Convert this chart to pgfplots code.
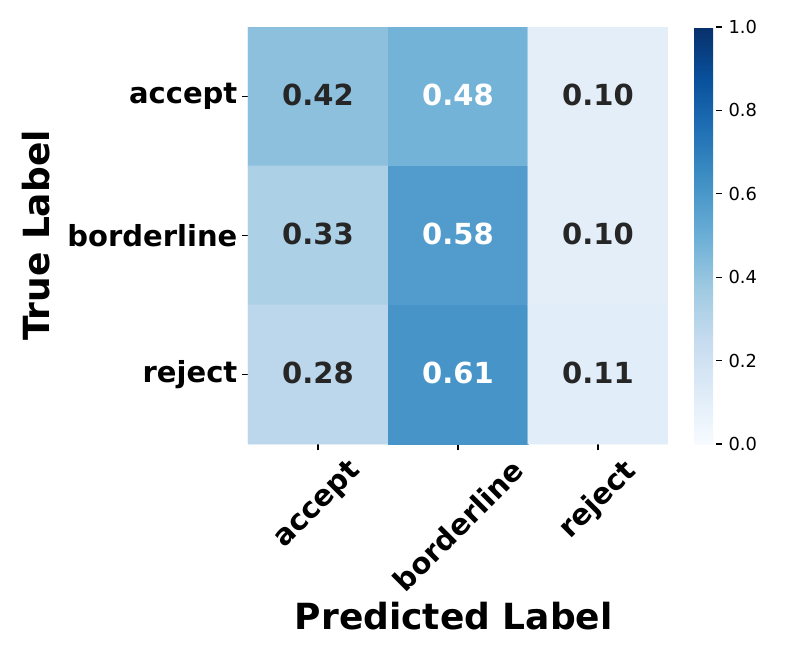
\documentclass[border=0pt]{standalone}
\usepackage{fontspec}
\setmainfont{DejaVu Sans}
\usepackage{graphicx}
\usepackage{pgfplots}
\pgfplotsset{compat=1.18}
\definecolor{annot}{RGB}{38,38,38}

\begin{document}
\begin{tikzpicture}
\useasboundingbox (-186pt,-162.75pt) rectangle (408.75pt,333pt);
\begin{axis}[
  at={(0pt,0pt)}, anchor=south west,
  scale only axis, width=315pt, height=312.75pt,
  xmin=-0.5, xmax=2.5, ymin=-0.5, ymax=2.5,
  y dir=reverse, enlargelimits=false,
  axis line style={draw=none},
  xtick={0,1,2}, ytick={0,1,2},
  xticklabels={\rotatebox{45}{accept},\rotatebox{45}{borderline},\rotatebox{45}{reject}},
  yticklabels={accept,borderline,reject},
  xtick pos=left, ytick pos=left, tick align=outside,
  major tick length=4.8pt,
  tick style={black, line width=0.9pt},
  ticklabel style={font=\bfseries\fontsize{21.75}{26}\selectfont, inner sep=0pt},
  xticklabel style={anchor=north, yshift=-5pt},
  yticklabel style={anchor=east, xshift=-3pt},
  xlabel={Predicted Label}, ylabel={True Label},
  label style={font=\bfseries\fontsize{27}{32}\selectfont, inner sep=0pt},
  xlabel style={at={(axis description cs:0.49,-0.3789)}, anchor=north},
  ylabel style={at={(axis description cs:-0.4714,0.5)}, anchor=south},
  colormap={blues}{rgb255=(247,251,255) rgb255=(222,235,247) rgb255=(198,219,239) rgb255=(158,202,225) rgb255=(107,174,214) rgb255=(66,146,198) rgb255=(33,113,181) rgb255=(8,81,156) rgb255=(8,48,107)},
  point meta min=0, point meta max=1,
  colorbar,
  colorbar style={
    at={(parent axis.north east)}, anchor=north west, xshift=11pt,
    width=16.5pt,
    axis line style={draw=none},
    ytick={0,0.2,0.4,0.6,0.8,1},
    yticklabels={0.0,0.2,0.4,0.6,0.8,1.0},
    ytick pos=right, yticklabel pos=right, tick align=outside,
    major tick length=4.2pt,
    tick style={black, line width=0.8pt},
    yticklabel style={font=\fontsize{13.4}{16}\selectfont, inner sep=0pt, anchor=west, xshift=5pt},
  },
]
\addplot[matrix plot*, mesh/cols=3, mesh/rows=3, point meta=explicit] table[meta=v] {
x y v
0 0 0.42
1 0 0.48
2 0 0.10
0 1 0.33
1 1 0.58
2 1 0.10
0 2 0.28
1 2 0.61
2 2 0.11
};
\addplot[only marks, mark=none, point meta=explicit symbolic, nodes near coords,
  every node near coord/.append style={font=\bfseries\fontsize{21.75}{26}\selectfont, text=annot, anchor=center, inner sep=0pt, yshift=1.5pt}] table[meta=l] {
x y l
0 0 0.42
2 0 0.10
0 1 0.33
2 1 0.10
0 2 0.28
2 2 0.11
};
\addplot[only marks, mark=none, point meta=explicit symbolic, nodes near coords,
  every node near coord/.append style={font=\bfseries\fontsize{21.75}{26}\selectfont, text=white, anchor=center, inner sep=0pt, yshift=1.5pt}] table[meta=l] {
x y l
1 0 0.48
1 1 0.58
1 2 0.61
};
\end{axis}
\end{tikzpicture}
\end{document}
